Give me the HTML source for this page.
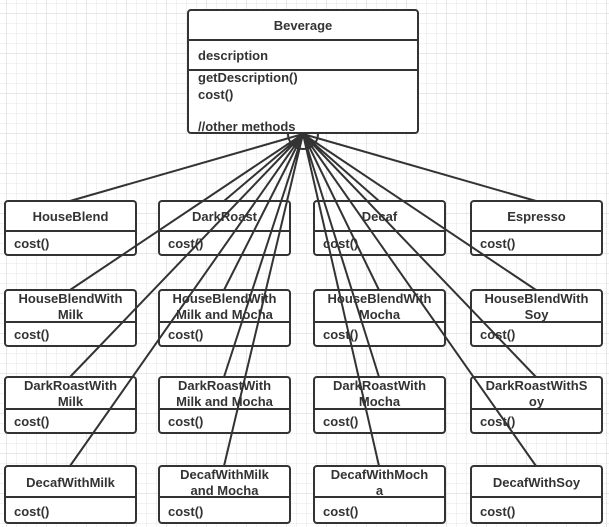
<!DOCTYPE html>
<html><head><style>
body{margin:0;width:609px;height:527px;overflow:hidden;background:#fff}
svg{display:block}
text{font-family:"Liberation Sans","Noto Sans CJK SC",sans-serif;font-weight:bold;font-size:13px;fill:#333}
</style></head><body>
<svg width="609" height="527" xmlns="http://www.w3.org/2000/svg">
<defs>
<pattern id="g" x="6" y="3" width="10" height="10" patternUnits="userSpaceOnUse">
<path d="M0 0V10M0 0H10" stroke="#e4e4e4" stroke-width="1"/>
</pattern>
<pattern id="G" x="6" y="13" width="40" height="40" patternUnits="userSpaceOnUse">
<path d="M0 0V40M0 0H40" stroke="#d2d2d2" stroke-width="1"/>
</pattern>
</defs>
<rect width="609" height="527" fill="url(#g)"/>
<rect width="609" height="527" fill="url(#G)"/>

<g fill="#fff" stroke="#333" stroke-width="2">
<rect x="188" y="10" width="230" height="123" rx="3"/>
<rect x="5" y="201" width="131" height="54" rx="3"/>
<rect x="159" y="201" width="131" height="54" rx="3"/>
<rect x="314" y="201" width="131" height="54" rx="3"/>
<rect x="471" y="201" width="131" height="54" rx="3"/>
<rect x="5" y="290" width="131" height="56" rx="3"/>
<rect x="159" y="290" width="131" height="56" rx="3"/>
<rect x="314" y="290" width="131" height="56" rx="3"/>
<rect x="471" y="290" width="131" height="56" rx="3"/>
<rect x="5" y="377" width="131" height="56" rx="3"/>
<rect x="159" y="377" width="131" height="56" rx="3"/>
<rect x="314" y="377" width="131" height="56" rx="3"/>
<rect x="471" y="377" width="131" height="56" rx="3"/>
<rect x="5" y="466" width="131" height="57" rx="3"/>
<rect x="159" y="466" width="131" height="57" rx="3"/>
<rect x="314" y="466" width="131" height="57" rx="3"/>
<rect x="471" y="466" width="131" height="57" rx="3"/>
</g>
<g stroke="#333" stroke-width="2">
<line x1="188" y1="40" x2="418" y2="40"/>
<line x1="188" y1="70" x2="418" y2="70"/>
<path d="M5 231H136M159 231H290M314 231H445M471 231H602"/>
<path d="M5 322H136M159 322H290M314 322H445M471 322H602"/>
<path d="M5 409H136M159 409H290M314 409H445M471 409H602"/>
<path d="M5 497H136M159 497H290M314 497H445M471 497H602"/>
</g>
<g stroke="#333" stroke-width="2" fill="none">
<path d="M303 134L70 201M303 134L224 201M303 134L379 201M303 134L536 201
M303 134L70 290M303 134L224 290M303 134L379 290M303 134L536 290
M303 134L70 377M303 134L224 377M303 134L379 377M303 134L536 377
M303 134L70 466M303 134L224 466M303 134L379 466M303 134L536 466"/>
<path d="M288 134A15 15 0 0 0 318 134"/>
</g>

<g text-anchor="middle">
<text x="303" y="30">Beverage</text>
<text x="70.5" y="221">HouseBlend</text>
<text x="224.5" y="221">DarkRoast</text>
<text x="379.5" y="221">Decaf</text>
<text x="536.5" y="221">Espresso</text>
<text x="70.5" y="303">HouseBlendWith</text><text x="70.5" y="319">Milk</text>
<text x="224.5" y="303">HouseBlendWith</text><text x="224.5" y="319">Milk and Mocha</text>
<text x="379.5" y="303">HouseBlendWith</text><text x="379.5" y="319">Mocha</text>
<text x="536.5" y="303">HouseBlendWith</text><text x="536.5" y="319">Soy</text>
<text x="70.5" y="390">DarkRoastWith</text><text x="70.5" y="406">Milk</text>
<text x="224.5" y="390">DarkRoastWith</text><text x="224.5" y="406">Milk and Mocha</text>
<text x="379.5" y="390">DarkRoastWith</text><text x="379.5" y="406">Mocha</text>
<text x="536.5" y="390">DarkRoastWithS</text><text x="536.5" y="406">oy</text>
<text x="70.5" y="487">DecafWithMilk</text>
<text x="224.5" y="479">DecafWithMilk</text><text x="224.5" y="495">and Mocha</text>
<text x="379.5" y="479">DecafWithMoch</text><text x="379.5" y="495">a</text>
<text x="536.5" y="487">DecafWithSoy</text>
</g>
<g>
<text x="198" y="60">description</text>
<text x="198" y="82">getDescription()</text>
<text x="198" y="99">cost()</text>
<text x="198" y="131">//other methods</text>
<text x="14" y="248">cost()</text><text x="168" y="248">cost()</text><text x="323" y="248">cost()</text><text x="480" y="248">cost()</text>
<text x="14" y="339">cost()</text><text x="168" y="339">cost()</text><text x="323" y="339">cost()</text><text x="480" y="339">cost()</text>
<text x="14" y="426">cost()</text><text x="168" y="426">cost()</text><text x="323" y="426">cost()</text><text x="480" y="426">cost()</text>
<text x="14" y="516">cost()</text><text x="168" y="516">cost()</text><text x="323" y="516">cost()</text><text x="480" y="516">cost()</text>
</g>
</svg>
</body></html>
